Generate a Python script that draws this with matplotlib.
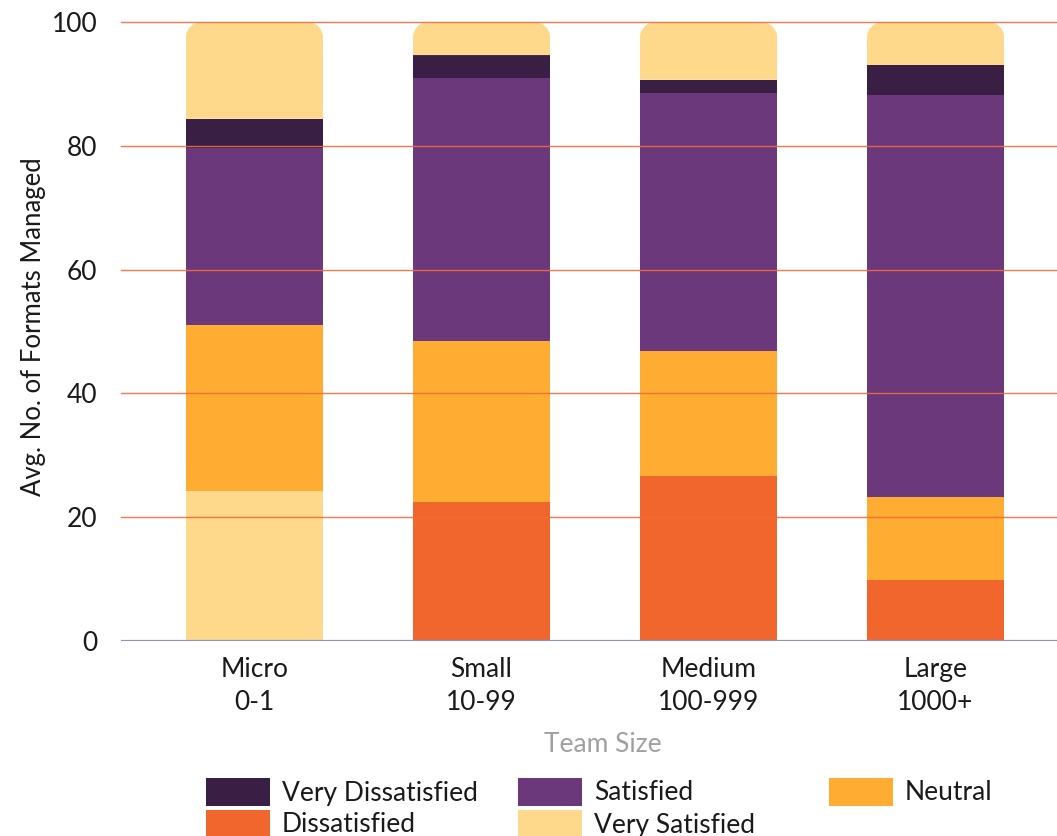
import matplotlib
matplotlib.use("Agg")
import matplotlib.pyplot as plt
from matplotlib.path import Path
from matplotlib.patches import PathPatch, Rectangle
import numpy as np

# ---- data -------------------------------------------------------------
team_sizes = ["Micro\n0-1", "Small\n10-99", "Medium\n100-999", "Large\n1000+"]
dissatisfied = [24.2, 22.4, 26.6, 9.8]
neutral = [26.8, 26.1, 20.3, 13.4]
satisfied = [28.6, 42.5, 41.7, 65.1]
very_dissatisfied = [4.8, 3.7, 2.1, 4.8]
very_satisfied = [15.6, 5.3, 9.3, 6.9]
y_ticks = [0, 20, 40, 60, 80, 100]

# ---- styling ----------------------------------------------------------
C_VD = "#3A1F44"
C_D = "#F1662D"
C_SAT = "#6B387C"
C_VS = "#FED88B"
C_NEU = "#FEAC32"
GRID = "#F26B3A"
AXIS = "#8E90CC"
TEXT = "#1A1A1A"
FONT = ["Lato", "DejaVu Sans"]
FS = 19

# first bar's bottom segment is shown in the light tone
dissatisfied_colors = [C_VS, C_D, C_D, C_D]

W, H, DPI = 1057, 836, 100
fig = plt.figure(figsize=(W / DPI, H / DPI), dpi=DPI)
ax = fig.add_axes([121 / W, 1 - 640.7 / H, 936 / W, (640.7 - 22.3) / H])

x = np.arange(len(team_sizes))
bw = 0.6035

bottom = np.zeros(len(x))
for vals, col in [(dissatisfied, dissatisfied_colors), (neutral, C_NEU),
                  (satisfied, C_SAT), (very_dissatisfied, C_VD)]:
    ax.bar(x, vals, bw, bottom=bottom, color=col, linewidth=0, zorder=2)
    bottom = bottom + np.array(vals)

# top segment with rounded upper corners
rx, ry = 0.066, 2.43
k = 0.5523
for xi, b, v in zip(x, bottom, very_satisfied):
    x0, x1 = xi - bw / 2, xi + bw / 2
    y0, y1 = b, b + v
    verts = [
        (x0, y0), (x0, y1 - ry),
        (x0, y1 - ry + k * ry), (x0 + rx - k * rx, y1), (x0 + rx, y1),
        (x1 - rx, y1),
        (x1 - rx + k * rx, y1), (x1, y1 - ry + k * ry), (x1, y1 - ry),
        (x1, y0), (x0, y0),
    ]
    codes = [Path.MOVETO, Path.LINETO,
             Path.CURVE4, Path.CURVE4, Path.CURVE4,
             Path.LINETO,
             Path.CURVE4, Path.CURVE4, Path.CURVE4,
             Path.LINETO, Path.CLOSEPOLY]
    ax.add_patch(PathPatch(Path(verts, codes), facecolor=C_VS,
                           edgecolor="none", zorder=2))

ax.set_xlim(-0.588, 3.535)
ax.set_ylim(0, 100)

for t in y_ticks[1:]:
    ax.axhline(t, color=GRID, lw=1.0, alpha=0.9, zorder=3, clip_on=False)
ax.axhline(0, color=AXIS, lw=1.6, zorder=3)

for s in ax.spines.values():
    s.set_visible(False)

ax.set_yticks(y_ticks)
ax.set_yticklabels([str(t) for t in y_ticks], family=FONT, fontsize=FS,
                   color=TEXT)
ax.set_xticks(x)
ax.set_xticklabels(team_sizes, family=FONT, fontsize=FS, color=TEXT,
                   linespacing=1.4)
ax.tick_params(axis="y", length=0, pad=17)
ax.tick_params(axis="x", length=0, pad=12)

ax.set_ylabel("Avg. No. of Formats Managed", family=FONT, fontsize=18.5,
              color=TEXT)
ax.yaxis.set_label_coords(-0.094, 0.508)
ax.yaxis.label.set_va("center")
ax.set_xlabel("Team Size", family=FONT, fontsize=FS, color="#A0A0A0")
ax.xaxis.set_label_coords((603 - 121) / 936, -(744 - 640.7) / 618.4)
ax.xaxis.label.set_va("center")

# legend laid out on a fixed grid
legend_items = [
    ("Very Dissatisfied", C_VD, 206, 778),
    ("Satisfied", C_SAT, 518, 778),
    ("Neutral", C_NEU, 829, 778),
    ("Dissatisfied", C_D, 206, 810),
    ("Very Satisfied", C_VS, 518, 810),
]
for label, col, px, py in legend_items:
    fig.patches.append(Rectangle((px / W, 1 - (py + 28) / H), 64 / W, 28 / H,
                                 transform=fig.transFigure, facecolor=col,
                                 edgecolor="none"))
    fig.text((px + 76) / W, 1 - (py + 15) / H, label, family=FONT,
             fontsize=FS, color=TEXT, va="center", ha="left")

fig.savefig("out.png", dpi=DPI)
